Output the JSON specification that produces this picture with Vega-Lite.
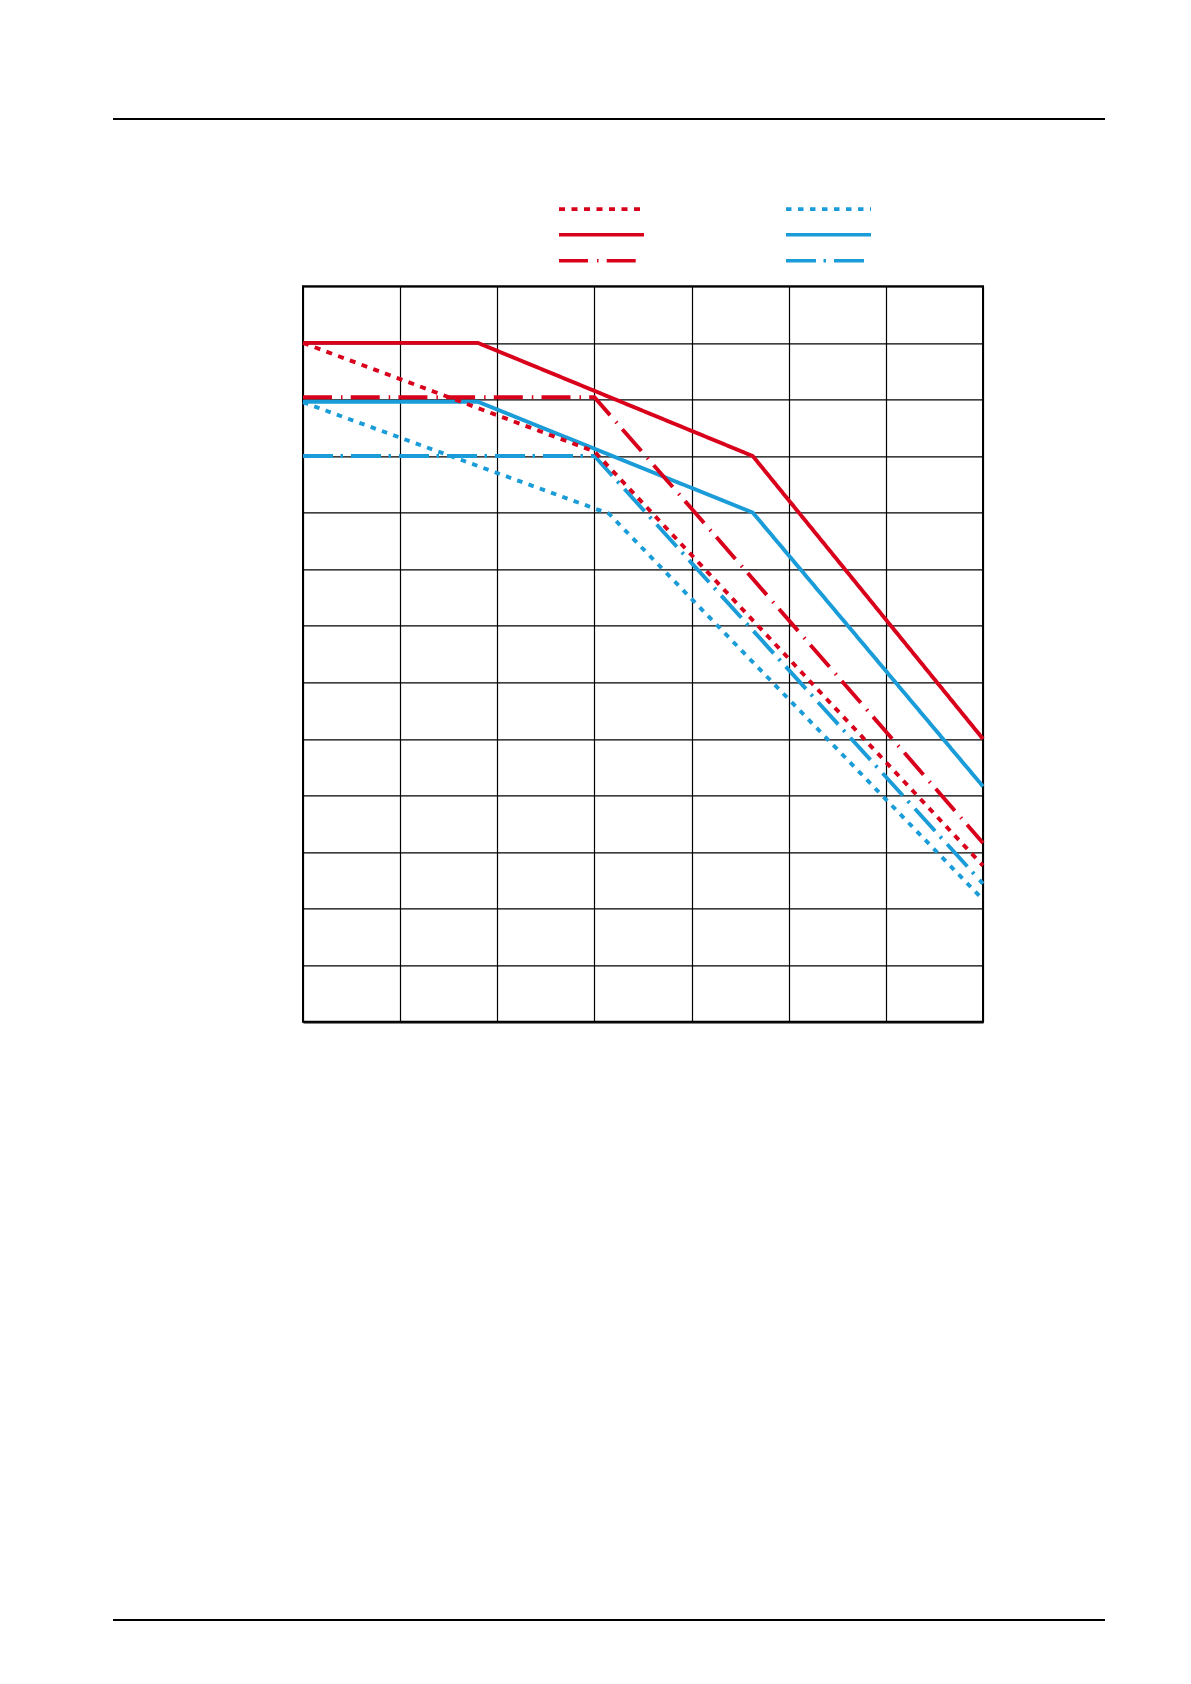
{
  "$schema": "https://vega.github.io/schema/vega-lite/v6.json",
  "autosize": {"type": "none"},
  "width": 680,
  "height": 735.5,
  "padding": {"left": 303, "top": 286.3, "right": 208, "bottom": 662.2},
  "background": "white",
  "config": {
    "view": {"stroke": "black", "strokeWidth": 2},
    "axis": {"grid": true, "gridColor": "black", "gridOpacity": 1, "gridWidth": 1.2, "labels": false, "ticks": false, "domain": false, "title": null}
  },
  "data": {
    "values": [
      {"series": "red_solid", "x": 0, "y": 12},
      {"series": "red_solid", "x": 1.8, "y": 12},
      {"series": "red_solid", "x": 4.63, "y": 10},
      {"series": "red_solid", "x": 7, "y": 5},
      {"series": "blue_solid", "x": 0, "y": 10.96},
      {"series": "blue_solid", "x": 1.8, "y": 10.96},
      {"series": "blue_solid", "x": 4.63, "y": 9.0},
      {"series": "blue_solid", "x": 7, "y": 4.16},
      {"series": "red_dashdot", "x": 0, "y": 11.04},
      {"series": "red_dashdot", "x": 3, "y": 11.04},
      {"series": "red_dashdot", "x": 7, "y": 3.16},
      {"series": "blue_dashdot", "x": 0, "y": 10},
      {"series": "blue_dashdot", "x": 3, "y": 10},
      {"series": "blue_dashdot", "x": 7, "y": 2.44},
      {"series": "red_dotted", "x": 0, "y": 12},
      {"series": "red_dotted", "x": 3, "y": 10.08},
      {"series": "red_dotted", "x": 7, "y": 2.76},
      {"series": "blue_dotted", "x": 0, "y": 10.95},
      {"series": "blue_dotted", "x": 3.15, "y": 8.98},
      {"series": "blue_dotted", "x": 7, "y": 2.16}
    ]
  },
  "layer": [
    {
      "mark": {"type": "line", "strokeWidth": 3.9, "strokeCap": "butt", "clip": false},
      "encoding": {
        "x": {"field": "x", "type": "quantitative", "scale": {"domain": [0, 7], "nice": false, "zero": false}, "axis": {"values": [0, 1, 2, 3, 4, 5, 6, 7]}},
        "y": {"field": "y", "type": "quantitative", "scale": {"domain": [0, 13], "nice": false, "zero": false}, "axis": {"values": [0, 1, 2, 3, 4, 5, 6, 7, 8, 9, 10, 11, 12, 13]}},
        "color": {
          "field": "series", "type": "nominal",
          "scale": {
            "domain": ["red_dotted", "red_solid", "red_dashdot", "blue_dotted", "blue_solid", "blue_dashdot"],
            "range": ["#d9001b", "#d9001b", "#d9001b", "#1a9cd8", "#1a9cd8", "#1a9cd8"]
          },
          "legend": {
            "orient": "none", "legendX": 254, "legendY": -90.2, "title": null,
            "columns": 2, "columnPadding": 138, "rowPadding": 0, "clipHeight": 25.3,
            "symbolType": "stroke", "symbolSize": 7225, "symbolStrokeWidth": 3.7,
            "labelExpr": "''", "labelOffset": 0, "labelFontSize": 1, "padding": 0
          }
        },
        "strokeDash": {
          "field": "series", "type": "nominal",
          "scale": {
            "domain": ["red_dotted", "red_solid", "red_dashdot", "blue_dotted", "blue_solid", "blue_dashdot"],
            "range": [[6, 6.5], [1, 0], [29, 9, 1.5, 8.2], [5.5, 6.5], [1, 0], [30, 7.5, 2.5, 8]]
          },
          "legend": null
        }
      }
    },
    {
      "mark": {"type": "rule", "color": "black", "strokeWidth": 1.3, "clip": false},
      "encoding": {"x": {"datum": -1.95}, "x2": {"datum": 8.25}, "y": {"datum": 15.96}}
    },
    {
      "mark": {"type": "rule", "color": "black", "strokeWidth": 1.3, "clip": false},
      "encoding": {"x": {"datum": -1.95}, "x2": {"datum": 8.25}, "y": {"datum": -10.57}}
    }
  ]
}
